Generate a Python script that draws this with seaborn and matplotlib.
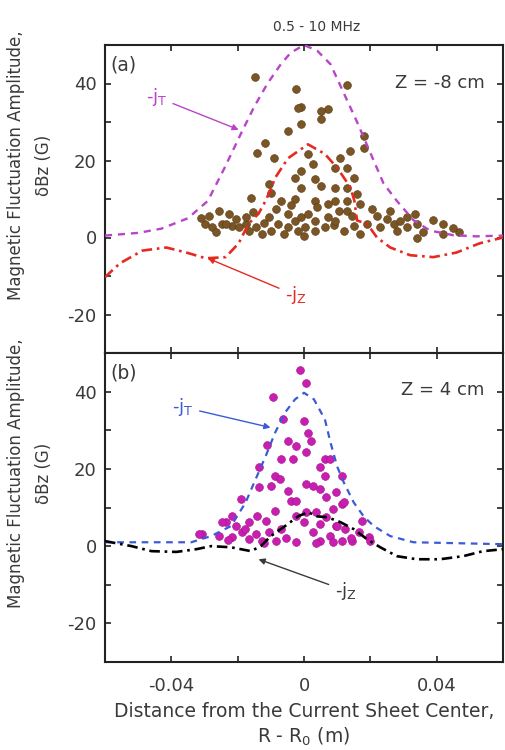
import matplotlib
matplotlib.use("Agg")
import matplotlib.pyplot as plt
import seaborn as sns
import pandas as pd
from matplotlib.ticker import FixedLocator

# ---------------- data ----------------
title_text = "0.5 - 10 MHz"
panel_labels = ["(a)", "(b)"]
z_labels = ["Z = -8 cm", "Z = 4 cm"]
x_ticks = [-0.04, 0, 0.04]
x_tick_labels = ["-0.04", "0", "0.04"]
y_ticks = [-20, 0, 20, 40]

# panel (a) -jT (dashed magenta)
a_jt_x = [-0.06, -0.05, -0.043, -0.035, -0.029, -0.024, -0.019, -0.015, -0.011, -0.007, -0.004, 0.0,
          0.004, 0.008, 0.012, 0.016, 0.020, 0.024, 0.028, 0.033, 0.038, 0.045, 0.052, 0.06]
a_jt_y = [0.5, 1.2, 2.3, 5.0, 9.5, 18.0, 27.0, 34.0, 40.0, 45.0, 48.0, 50.0,
          48.5, 45.0, 37.5, 30.0, 22.0, 14.0, 9.5, 4.5, 1.8, 0.6, 0.3, 0.5]
# panel (a) -jZ (dash-dot red)
a_jz_x = [-0.06, -0.0555, -0.0487, -0.0415, -0.0355, -0.0296, -0.0236, -0.0197, -0.0167, -0.0137,
          -0.0116, -0.0098, -0.0087, -0.0048, 0.0012, 0.0063, 0.0101, 0.014, 0.0152, 0.016, 0.019,
          0.022, 0.026, 0.032, 0.039, 0.046, 0.053, 0.06]
a_jz_y = [-10.3, -6.7, -3.4, -2.6, -3.9, -5.4, -5.1, -1.5, 3.6, 6.2,
          9.5, 13.0, 15.5, 20.6, 24.2, 21.7, 18.0, 13.0, 9.5, 4.4, 3.6,
          0.0, -2.6, -4.6, -5.1, -3.9, -1.5, 0.0]
# panel (a) measured amplitudes
a_pts_x = [-0.0147, -0.0024, 0.0131, -0.0009, -0.0018, 0.0072, 0.005, 0.005, -0.0009, -0.0048, 0.018,
           -0.0117, 0.018, 0.014, -0.0143, 0.0012, 0.011, -0.009, 0.0027, 0.0093, 0.0131, -0.0009,
           -0.0027, 0.0033, 0.0152, -0.0107, 0.005, -0.0009, 0.0093, 0.0131, -0.0098, 0.016, -0.0161,
           -0.0027, -0.0069, 0.0033, 0.0093, 0.0131, 0.0072, 0.017, 0.0131,
           -0.0287, -0.0257, -0.0227, -0.0278, -0.0248, -0.0218, -0.0197, -0.0176, -0.0167, -0.0146,
           -0.0128, -0.0107, -0.0098, -0.0078, -0.0048, -0.0027, -0.0009, 0.0012, 0.0033, -0.0048,
           -0.0018, 0.0003, 0.0033, 0.0063, 0.0072, -0.0236, -0.0176, -0.0297, -0.031, -0.0265,
           -0.0205, -0.0155, -0.012, -0.006, 0.0, 0.009, 0.022, 0.025, 0.027, 0.023, 0.028, 0.031,
           0.034, 0.031, 0.0093, 0.0122, 0.017, 0.019, 0.042, 0.042, 0.0466, 0.034, 0.0145, 0.0205,
           0.026, 0.036, 0.039, 0.045, 0.015, 0.0105, 0.029, 0.0335, -0.0085, -0.004, 0.004]
a_pts_y = [41.8, 38.7, 39.7, 34.0, 33.6, 33.3, 32.8, 30.7, 29.4, 27.6, 26.3,
           24.5, 23.2, 22.4, 21.9, 21.7, 20.6, 20.6, 19.0, 18.0, 18.0, 17.3,
           15.5, 15.2, 15.5, 13.9, 13.4, 12.9, 12.9, 12.9, 11.6, 11.3, 10.3,
           10.0, 9.5, 9.5, 9.5, 9.5, 8.8, 8.8, 7.0,
           5.7, 7.0, 6.2, 2.6, 3.6, 3.1, 2.6, 3.6, 1.8, 2.6,
           1.0, 5.2, 1.8, 3.6, 6.2, 4.4, 5.2, 6.2, 4.4, 2.6,
           1.8, 2.6, 1.8, 2.6, 5.2, 3.6, 5.2, 3.5, 5.0, 1.5,
           4.8, 6.5, 3.8, 0.8, 0.5, 3.2, 5.7, 4.9, 3.6, 2.6, 1.8, 2.6,
           3.6, 5.2, 4.4, 1.8, 1.0, 3.6, 3.6, 1.0, 1.3, 0.0, 5.5, 7.5,
           6.8, 1.5, 4.5, 2.5, 3.0, 7.0, 4.2, 6.0, 7.5, 8.5, 7.8]

# panel (b) -jT (dashed blue)
b_jt_x = [-0.06, -0.034, -0.028, -0.022, -0.0176, -0.0146, -0.0116, -0.0087, -0.0057, -0.0027, 0.0,
          0.003, 0.0063, 0.008, 0.010, 0.012, 0.015, 0.018, 0.021, 0.026, 0.033, 0.06]
b_jt_y = [1.0, 1.0, 2.6, 5.2, 11.3, 17.3, 23.2, 29.4, 34.6, 38.0, 39.7,
          38.0, 32.8, 26.8, 20.6, 16.5, 11.3, 7.7, 5.2, 2.6, 1.0, 0.5]
# panel (b) -jZ (dash-dot black)
b_jz_x = [-0.06, -0.052, -0.046, -0.0385, -0.0325, -0.028, -0.022, -0.016, -0.013, -0.010, -0.0057,
          -0.0018, 0.0012, 0.004, 0.007, 0.011, 0.015, 0.019, 0.023, 0.028, 0.034, 0.041, 0.048,
          0.054, 0.06]
b_jz_y = [1.3, 0.0, -1.3, -1.5, -0.8, 0.0, -0.3, -1.3, 0.0, 2.6, 5.2,
          7.7, 8.8, 7.7, 7.5, 6.2, 4.4, 1.8, -0.3, -2.6, -3.4, -3.4, -2.6,
          -1.3, -0.8]
# panel (b) measured amplitudes
b_pts_x = [-0.0093, -0.0063, -0.0113, -0.0048, -0.0069, -0.0033, -0.0137, -0.0087, -0.0072, -0.0048,
           -0.0101, -0.0137, -0.0191, -0.0039, -0.0087, -0.0143, -0.0116, -0.0167, -0.0206, -0.0236,
           -0.0188, -0.0146, -0.0107, -0.0069, -0.0218, -0.0257, -0.0307, -0.0167, -0.0128,
           -0.0012, 0.0006, 0.0, 0.0012, 0.0021, -0.0024, 0.0006, 0.0063, 0.0078, 0.0048, 0.0063,
           0.0006, 0.0027, 0.0048, 0.0116, 0.0096, 0.0066, 0.0116, -0.0024, 0.0087, 0.0036, 0.0006,
           -0.0024, 0.0066, 0.0, 0.0048, 0.0096, 0.0125, 0.0027, 0.0078, 0.0167, 0.0197, 0.0116,
           0.0146, 0.0048, 0.020, 0.0122, 0.0101, -0.0316, -0.0248, -0.0218, -0.0055, -0.0025,
           -0.0085, -0.012, -0.0178, -0.0228, 0.0035, 0.0088, 0.0142, 0.0175]
b_pts_y = [38.7, 32.8, 26.3, 27.1, 22.5, 22.5, 20.6, 18.1, 17.3, 14.2,
           15.5, 15.2, 12.1, 11.6, 9.0, 7.7, 6.5, 6.2, 5.2, 6.2,
           3.6, 3.1, 3.6, 4.4, 2.3, 2.6, 3.1, 1.8, 1.3,
           45.7, 42.3, 32.3, 29.4, 27.1, 25.8, 24.3, 22.5, 22.5, 20.4, 18.1,
           16.0, 15.5, 14.7, 18.1, 13.9, 12.6, 10.8, 11.6, 9.5, 8.8, 8.8,
           7.7, 7.5, 6.2, 5.7, 5.2, 4.4, 3.6, 2.6, 3.6, 2.3, 1.3,
           1.3, 1.3, 1.3, 11.3, 5.2, 3.1, 6.2, 7.7, 2.0, 1.0,
           1.2, 0.8, 4.5, 1.5, 0.8, 1.0, 2.2, 6.5]

# ---------------- styling ----------------
sns.set_theme(style="ticks")
plt.rcParams["font.family"] = ["DejaVu Sans"]
plt.rcParams["axes.unicode_minus"] = False

fig = plt.figure(figsize=(5.05, 7.5), dpi=100)
W, H = 505, 750
ax_a = fig.add_axes([105 / W, 1 - 353 / H, 398 / W, 308 / H])
ax_b = fig.add_axes([105 / W, 1 - 662 / H, 398 / W, 309 / H])

c_brown = "#7a5526"
c_mag_pts = "#c81fb0"
c_mag_line = "#b844c8"
c_red = "#e52a22"
c_blue = "#3b5bd6"
c_text = "#3a3a3a"

dfa_pts = pd.DataFrame({"x": a_pts_x, "y": a_pts_y})
dfb_pts = pd.DataFrame({"x": b_pts_x, "y": b_pts_y})

sns.scatterplot(data=dfa_pts, x="x", y="y", ax=ax_a, color=c_brown, s=32,
                edgecolor="#5a3a14", linewidth=0.4, zorder=2)
sns.lineplot(x=a_jt_x, y=a_jt_y, ax=ax_a, color=c_mag_line, lw=1.7, sort=False,
             estimator=None, zorder=3).lines[-1].set_dashes([3, 2.5])
sns.lineplot(x=a_jz_x, y=a_jz_y, ax=ax_a, color=c_red, lw=1.9, sort=False,
             estimator=None, zorder=3).lines[-1].set_dashes([4, 1.8, 1, 1.8])

sns.scatterplot(data=dfb_pts, x="x", y="y", ax=ax_b, color=c_mag_pts, s=32,
                edgecolor="#a0108c", linewidth=0.4, zorder=2)
sns.lineplot(x=b_jt_x, y=b_jt_y, ax=ax_b, color=c_blue, lw=1.6, sort=False,
             estimator=None, zorder=3).lines[-1].set_dashes([3, 2.5])
sns.lineplot(x=b_jz_x, y=b_jz_y, ax=ax_b, color="black", lw=1.9, sort=False,
             estimator=None, zorder=3).lines[-1].set_dashes([4, 1.8, 1, 1.8])

ylab = "Magnetic Fluctuation Amplitude,\n\u03b4Bz (G)"
for i, ax in enumerate([ax_a, ax_b]):
    ax.set_xlim(-0.06, 0.06)
    ax.set_ylim(-30, 50)
    ax.xaxis.set_major_locator(FixedLocator(x_ticks))
    ax.xaxis.set_minor_locator(FixedLocator([-0.02, 0.02]))
    ax.yaxis.set_major_locator(FixedLocator(y_ticks))
    ax.yaxis.set_minor_locator(FixedLocator([-10, 10, 30]))
    ax.tick_params(which="both", direction="in", top=True, right=True, length=4,
                   width=1.2, color="#222222", labelsize=13, labelcolor=c_text)
    ax.tick_params(axis="y", pad=6)
    ax.tick_params(axis="x", pad=11)
    for sp in ax.spines.values():
        sp.set_linewidth(1.5)
        sp.set_color("#222222")
    ax.set_ylabel(ylab, fontsize=12, color=c_text, linespacing=1.75)
    ax.yaxis.set_label_coords(-0.13, 0.61)
    ax.set_xlabel("")
    ax.text(0.013, 0.965, panel_labels[i], transform=ax.transAxes, ha="left", va="top",
            fontsize=13.5, color=c_text)

ax_a.set_xticklabels([])
ax_b.set_xticklabels(x_tick_labels)
ax_b.set_xlabel("Distance from the Current Sheet Center,\nR - R$_0$ (m)", fontsize=13.5,
                color=c_text, labelpad=5, linespacing=1.25)

ax_a.text(0.0545, 40, z_labels[0], ha="right", va="center", fontsize=13, color=c_text)
ax_b.text(0.0545, 40.5, z_labels[1], ha="right", va="center", fontsize=13, color=c_text)

fig.text(317 / W, 1 - 27 / H, title_text, ha="center", va="center", fontsize=10, color=c_text)

arrow_kw = dict(arrowstyle="-|>", lw=1.0, mutation_scale=9, shrinkA=2, shrinkB=0)
ax_a.annotate("-j$_{\\mathregular{T}}$", xy=(-0.0197, 28.0), xytext=(-0.0445, 36.5),
              color=c_mag_line, fontsize=13, ha="center", va="center",
              arrowprops=dict(color=c_mag_line, **arrow_kw))
ax_a.annotate("-j$_{\\mathregular{Z}}$", xy=(-0.029, -5.4), xytext=(-0.0025, -15.0),
              color=c_red, fontsize=13, ha="center", va="center",
              arrowprops=dict(color=c_red, **arrow_kw))
ax_b.annotate("-j$_{\\mathregular{T}}$", xy=(-0.0101, 30.7), xytext=(-0.0365, 36.0),
              color=c_blue, fontsize=13, ha="center", va="center",
              arrowprops=dict(color=c_blue, **arrow_kw))
ax_b.annotate("-j$_{\\mathregular{Z}}$", xy=(-0.0137, -3.4), xytext=(0.0125, -11.5),
              color=c_text, fontsize=13, ha="center", va="center",
              arrowprops=dict(color=c_text, **arrow_kw))

fig.savefig("out.png", dpi=100)
